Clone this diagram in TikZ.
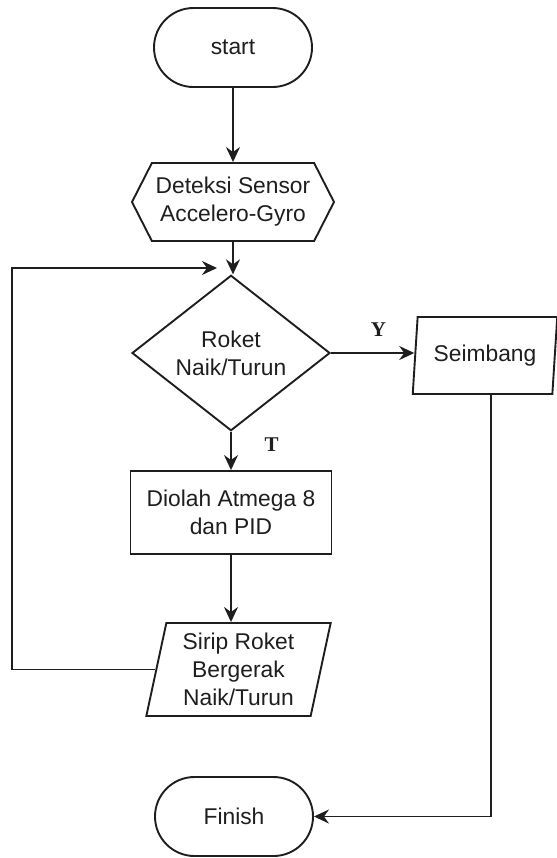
\documentclass[tikz,border=0pt]{standalone}
\usepackage{fontspec}
\setmainfont{Liberation Sans}
\newfontfamily\tagfont{Liberation Serif}
\usetikzlibrary{arrows.meta,shapes.geometric,shapes.misc,shapes.symbols}
\definecolor{ink}{RGB}{30,30,30}
\tikzset{
  >={Stealth[length=7.5pt,width=7pt,inset=2.5pt]},
  base/.style={draw=ink,line width=0.95pt,align=center,text=ink,inner sep=0pt,
    font=\fontsize{11.4}{14}\selectfont},
  term/.style={base,rounded rectangle,minimum width=79pt,minimum height=39.5pt},
  prep/.style={base,signal,signal to=west and east,signal pointer angle=126,
    minimum width=101pt,minimum height=39pt},
  decide/.style={base,diamond,minimum width=99pt,minimum height=55pt},
  proc/.style={base,rectangle,minimum width=100.5pt,minimum height=41.5pt},
  io/.style={base,trapezium,trapezium stretches=true},
  flow/.style={->,line width=0.95pt,draw=ink},
  tag/.style={font=\tagfont\bfseries\fontsize{10.5}{12}\selectfont,text=ink},
}
\begin{document}
\begin{tikzpicture}[x=0.5pt,y=-0.5pt]
  \useasboundingbox (0,0) rectangle (557,858);
  \node[term] (start) at (233,47.5) {start};
  \node[prep] (sensor) at (233,202) {Deteksi Sensor\\Accelero-Gyro};
  \node[decide] (cek) at (231,353) {Roket\\Naik/Turun};
  \node[io,trapezium left angle=80,trapezium right angle=100,
    minimum width=72.5pt,minimum height=38.5pt] (seimbang) at (485,355.5) {Seimbang};
  \node[proc] (olah) at (231,512.5) {Diolah Atmega 8\\dan PID};
  \node[io,trapezium left angle=78,trapezium right angle=102,
    minimum width=92.5pt,minimum height=46.5pt] (sirip) at (238.5,669.5) {Sirip Roket\\Bergerak\\Naik/Turun};
  \node[term] (finish) at (234,816.5) {Finish};
  \coordinate (kiri) at (12,268);
  \coordinate (balik) at (217,268);

  \draw[flow] (start) -- (sensor);
  \draw[flow] (sensor.south) -- (sensor.south |- cek.north);
  \draw[flow] (cek.east) -- (cek.east -| seimbang.west) node[tag,pos=0.57,above=4.5pt] {Y};
  \draw[flow] (cek.south) -- (olah.north) node[tag,pos=0.35,right=13pt] {T};
  \draw[flow] (olah.south) -- (olah.south |- sirip.north);
  \draw[flow] (sirip.west) -| (kiri) -- (balik);
  \draw[flow] ([xshift=3pt]seimbang.south) |- (finish.east);
\end{tikzpicture}
\end{document}
